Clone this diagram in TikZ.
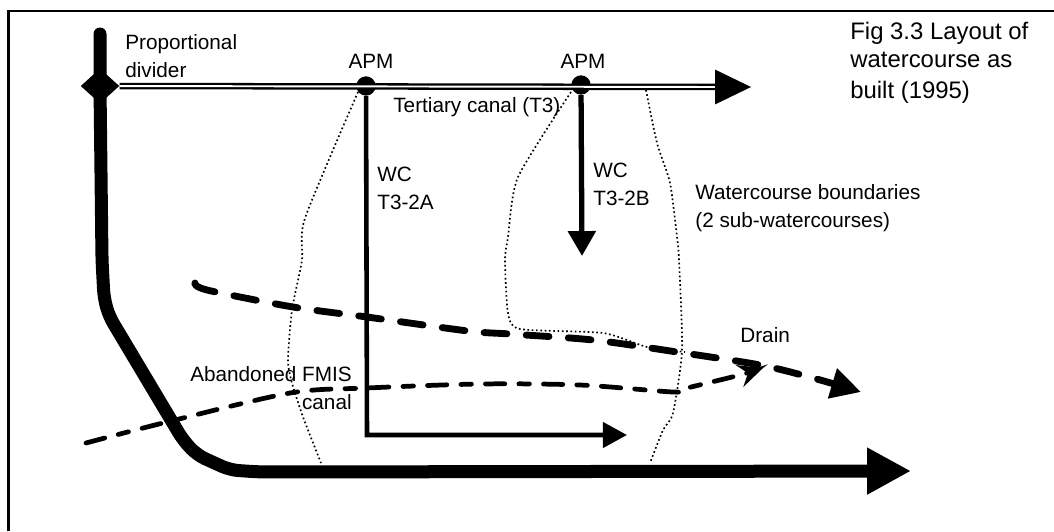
\documentclass[tikz,border=0pt]{standalone}
\usepackage{xcolor}
\usepackage{fontspec}
\setmainfont{Liberation Sans}
\usetikzlibrary{arrows.meta,shapes.geometric}

\begin{document}
\begin{tikzpicture}[x=0.02cm, y=-0.02cm,
      label/.style={inner sep=0pt, align=left, font=\fontsize{11.8}{16}\selectfont},
      boundary/.style={line width=0.95pt, dash pattern=on 0.95pt off 1.5pt},
      apm/.style={circle, fill=black, inner sep=0pt, minimum size=11pt}]
      \useasboundingbox (0,0) rectangle (1054,531);
      \draw[line width=1.4pt] (8.5,531) -- (8.5,11) -- (1054,11);

      \node[diamond, fill=black, inner sep=0pt, minimum width=22pt, minimum height=20pt] (divider) at (100,86) {};
      \node[apm] (apmA) at (366,86) {};
      \node[apm] (apmB) at (581,85) {};
      \coordinate (canaltop) at (100,34);
      \coordinate (canalend) at (911,471);
      \coordinate (t3end) at (749,87);
      \coordinate (wcAcorner) at (367,435);
      \coordinate (wcAend) at (627,435);
      \coordinate (wcBend) at (582,256);

      \draw[boundary] plot[smooth, tension=0.4] coordinates {(358,92) (305,218) (302,260) (292,310) (288,360) (292,383) (303,417) (321,463)};
      \draw[boundary] plot[smooth, tension=0.4] coordinates {(571,92) (518,177) (508,237) (505,260) (508,313) (520,329) (603,333) (647,347) (685,352)};
      \draw[boundary] plot[smooth, tension=0.4] coordinates {(646,90) (657,143) (670,183) (677,237) (679,260) (682,350) (673,413) (663,430) (650,463)};

      \draw[line width=7.4pt, line cap=round, rounded corners=5pt, -{Triangle[length=25pt, width=25pt]}]
        (canaltop) -- (divider.center) -- (102,260) -- (104,298) -- (109,316) -- (183,440) -- (197,455) -- (230,470) -- (260,472) -- (canalend);
      \draw[line width=1.3pt, double distance=1.1pt] (divider) -- (720,87);
      \draw[line width=1pt, fill=black] (716,71) -- (t3end) -- (716,103) -- cycle;
      \draw[line width=2.6pt, -{Triangle[length=13.7pt, width=14.2pt]}] (apmA) -- (wcAcorner) -- (wcAend);
      \draw[line width=3pt, -{Triangle[length=14.2pt, width=15.4pt]}] (apmB) -- (wcBend);

      \draw[line width=3.9pt, line cap=round, dash pattern=on 13pt off 11pt, -{Triangle[length=17pt, width=17pt]}]
        plot[smooth, tension=0.5] coordinates {(195,283) (207,290) (293,307) (367,317) (468,331) (510,334) (593,340) (677,352) (760,365) (813,378) (861,392)};
      \draw[line width=2.7pt, line cap=round, dash pattern=on 11pt off 8pt on 6pt off 8pt, -{Stealth[length=14pt, width=13pt, inset=5pt]}]
        plot[smooth, tension=0.5] coordinates {(86,443) (163,423) (290,393) (367,388) (480,384) (580,385) (673,392) (683,389) (740,375) (763,368)};

      \node[label, anchor=west] (dividerlabel) at (125,56) {Proportional\\divider};
      \node[label, anchor=base] (apmAlabel) at (371,68) {APM};
      \node[label, anchor=base] (apmBlabel) at (583,68) {APM};
      \node[label, anchor=base west] (t3label) at (393,112) {Tertiary canal (T3)};
      \node[label, anchor=west] (wcAlabel) at (377,188) {WC\\T3-2A};
      \node[label, anchor=west] (wcBlabel) at (593,184) {WC\\T3-2B};
      \node[label, anchor=west] (boundarylabel) at (695,208) {Watercourse boundaries\\(2 sub-watercourses)};
      \node[label, anchor=base west] (drainlabel) at (740,342) {Drain};
      \node[label, anchor=east, align=right] (fmislabel) at (352,388) {Abandoned FMIS\\canal};
      \node[label, anchor=west, font=\fontsize{13.6}{16}\selectfont] (title) at (850,63) {Fig 3.3 Layout of\\watercourse as\\[1.6pt]built (1995)};
    \end{tikzpicture}
\end{document}
